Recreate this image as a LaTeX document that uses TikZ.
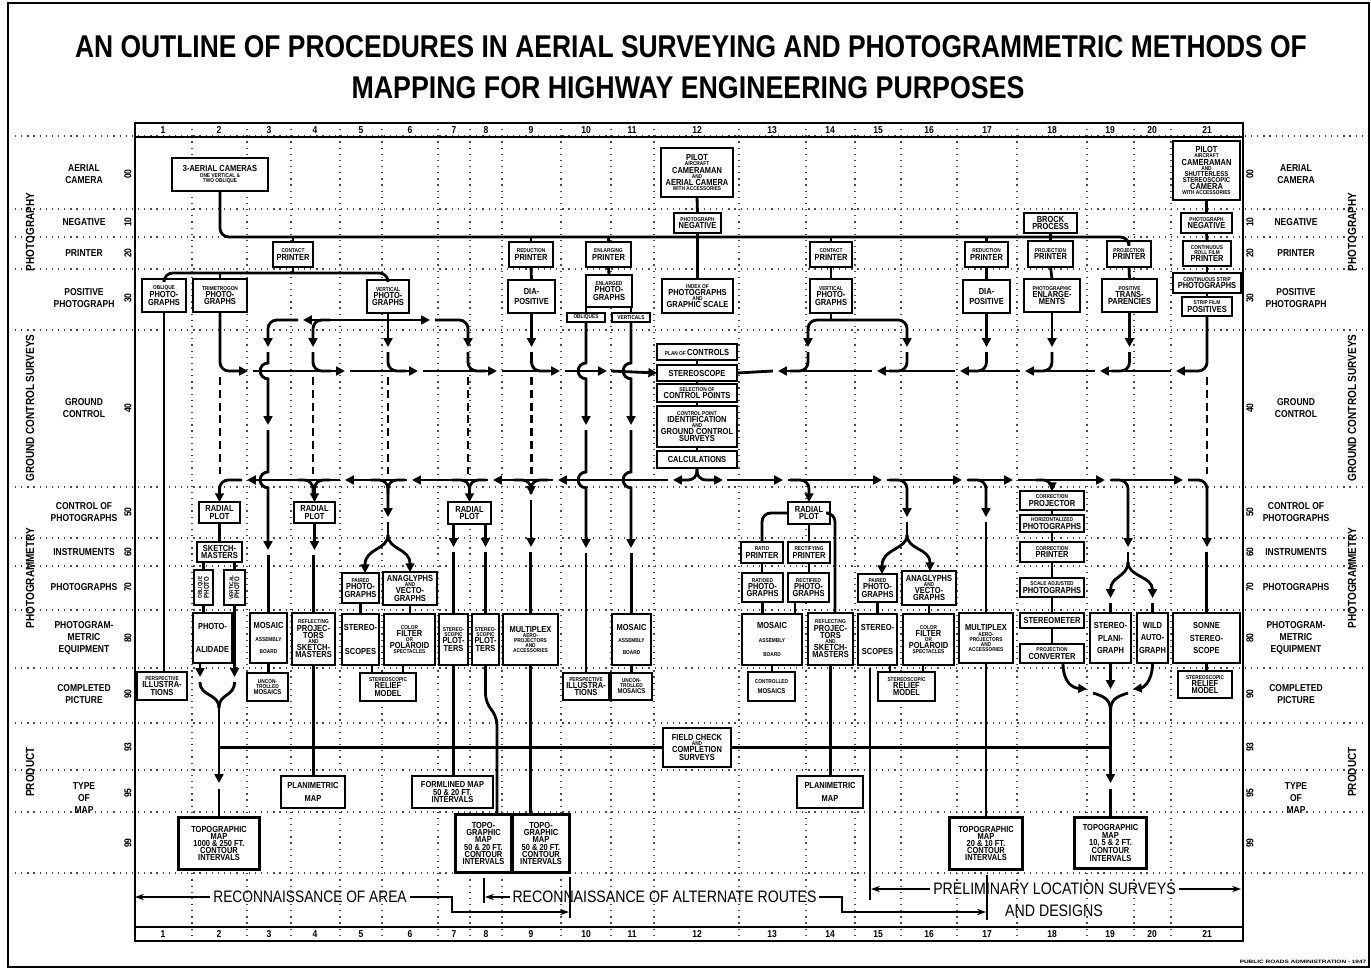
\documentclass[tikz,border=0pt]{standalone}
\usepackage{fontspec}
\usepackage{graphicx}
\setmainfont{Liberation Sans}
\newfontfamily\cond{Liberation Sans}[FakeStretch=0.85]
\usetikzlibrary{arrows.meta}
\newcommand\fL{\cond\bfseries\fontsize{5}{5}\selectfont}
\newcommand\fM{\cond\bfseries\fontsize{4}{4}\selectfont}
\newcommand\fS{\cond\bfseries\fontsize{3.2}{3.2}\selectfont}
\newcommand\fR{\cond\bfseries\fontsize{5.7}{5.7}\selectfont}
\newcommand\fSec{\cond\bfseries\fontsize{6.7}{6.7}\selectfont}
\newcommand\stk[1]{\vbox{\baselineskip=-1000pt\lineskip=0.6pt\lineskiplimit=0pt\halign{\hfil##\hfil\cr#1\crcr}}}
\newcommand\lstk[1]{\vbox{\baselineskip=-1000pt\lineskip=2.8pt\lineskiplimit=0pt\halign{\hfil##\hfil\cr#1\crcr}}}
\newcommand\gp[1]{\noalign{\vskip#1}}
\newcommand\bx[7][]{\node[bxs,minimum width={(#5-#3)*0.5669pt},minimum height={(#6-#4)*0.5669pt},#1] (#2) at ({(#3+#5)/2},{(#4+#6)/2}) {\stk{#7}};}
\begin{document}
\begin{tikzpicture}[x=0.02cm,y=-0.02cm,
  bxs/.style={draw,line width=0.8pt,inner sep=0pt,outer sep=0pt,fill=white},
  mapbox/.style={line width=1.7pt},
  flow/.style={line width=1.6pt,rounded corners=5pt},
  arr/.style={-{Triangle[length=5pt,width=5pt]}},
  arrb/.style={{Triangle[length=5pt,width=5pt]}-{Triangle[length=5pt,width=5pt]}},
  sarr/.style={-{Stealth[length=5pt,width=3.5pt]}},
  dsh/.style={line width=1.6pt,dash pattern=on 4.5pt off 2.8pt},
  gridl/.style={line width=0.7pt,dash pattern=on 0.7pt off 2.8pt,black!70},
  thinl/.style={line width=0.8pt}]
\useasboundingbox (0,0) rectangle (1371,970);
% grid
\foreach \yy in {136,209,237,269,330,487,538,566,610,668,723,770,812,873} \draw[gridl] (15,\yy) -- (1365,\yy);
\foreach \xx in {192,247,291,340,382,438,470,502,561,611,654,739,806,855,901,957,1017,1087,1134,1171} \draw[gridl] (\xx,123) -- (\xx,941);
% frames
\draw[line width=1.2pt] (8,3) rectangle (1369,967);
\draw[line width=1.1pt] (135,123) rectangle (1243,941);
\draw[line width=1.1pt] (135,137) -- (1243,137) (135,927) -- (1243,927);
\foreach \nn/\xx in {1/163,2/219,3/269,4/315,5/361,6/410,7/454,8/486,9/531,10/586,11/632,12/697,13/772,14/830,15/878,16/929,17/987,18/1052,19/1110,20/1152,21/1207}{
  \node[font=\fR,inner sep=0pt] (ht\nn) at (\xx,130) {\nn};
  \node[font=\fR,inner sep=0pt] (hb\nn) at (\xx,934) {\nn};}
% title
\node (T1) at (691,47) {\resizebox{701pt}{12.5pt}{\cond\bfseries AN OUTLINE OF PROCEDURES IN AERIAL SURVEYING AND PHOTOGRAMMETRIC METHODS OF}};
\node (T2) at (688,88) {\resizebox{383pt}{12.5pt}{\cond\bfseries MAPPING FOR HIGHWAY ENGINEERING PURPOSES}};
\node (FT) at (1303,962) {\resizebox{72pt}{1.9pt}{\cond\bfseries PUBLIC ROADS ADMINISTRATION - 1947}};
% side labels
\foreach \sx in {30,1352}{
  \node[rotate=90,inner sep=0pt] (sa\sx) at (\sx,232) {\fSec PHOTOGRAPHY};
  \node[rotate=90,inner sep=0pt] (sb\sx) at (\sx,408) {\fSec GROUND CONTROL SURVEYS};
  \node[rotate=90,inner sep=0pt] (sc\sx) at (\sx,578) {\fSec PHOTOGRAMMETRY};
  \node[rotate=90,inner sep=0pt] (sd\sx) at (\sx,772) {\fSec PRODUCT};}
\foreach \lx in {84,1296}{
  \node[inner sep=0pt] (la\lx) at (\lx,174) {\lstk{\fR AERIAL\cr\fR CAMERA}};
  \node[inner sep=0pt] (lb\lx) at (\lx,222) {\fR NEGATIVE};
  \node[inner sep=0pt] (lc\lx) at (\lx,253) {\fR PRINTER};
  \node[inner sep=0pt] (ld\lx) at (\lx,298) {\lstk{\fR POSITIVE\cr\fR PHOTOGRAPH}};
  \node[inner sep=0pt] (le\lx) at (\lx,408) {\lstk{\fR GROUND\cr\fR CONTROL}};
  \node[inner sep=0pt] (lf\lx) at (\lx,512) {\lstk{\fR CONTROL OF\cr\fR PHOTOGRAPHS}};
  \node[inner sep=0pt] (lg\lx) at (\lx,552) {\fR INSTRUMENTS};
  \node[inner sep=0pt] (lh\lx) at (\lx,587) {\fR PHOTOGRAPHS};
  \node[inner sep=0pt] (li\lx) at (\lx,638) {\lstk{\fR PHOTOGRAM-\cr\fR METRIC\cr\fR EQUIPMENT}};
  \node[inner sep=0pt] (lj\lx) at (\lx,694) {\lstk{\fR COMPLETED\cr\fR PICTURE}};
  \node[inner sep=0pt] (lk\lx) at (\lx,798) {\lstk{\fR TYPE\cr\fR OF\cr\fR MAP}};}
\foreach \cc/\yy in {00/174,10/222,20/253,30/298,40/408,50/512,60/552,70/587,80/638,90/694,93/747,95/793,99/843}{
  \node[rotate=90,font=\fR,inner sep=0pt] (cl\cc) at (128,\yy) {\cc};
  \node[rotate=90,font=\fR,inner sep=0pt] (cr\cc) at (1250,\yy) {\cc};}
% ===== boxes: photography
\bx{CAM3}{172}{158}{268}{191}{\fL 3-AERIAL CAMERAS\cr\fS ONE VERTICAL \&\cr\fS TWO OBLIQUE}
\bx{PIL12}{661}{148}{733}{197}{\fL PILOT\cr\fS AIRCRAFT\cr\fL CAMERAMAN\cr\fS AND\cr\fL AERIAL CAMERA\cr\fS WITH ACCESSORIES}
\bx{PIL21}{1173}{141}{1240}{200}{\fL PILOT\cr\fS AIRCRAFT\cr\fL CAMERAMAN\cr\fS AND\cr\fM SHUTTERLESS\cr\fM STEREOSCOPIC\cr\fL CAMERA\cr\fS WITH ACCESSORIES}
\bx{NEG12}{674}{213}{721}{233}{\fS PHOTOGRAPH\cr\fL NEGATIVE}
\bx{BROCK}{1024}{213}{1077}{233}{\fL BROCK\cr\fL PROCESS}
\bx{NEG21}{1181}{213}{1232}{233}{\fS PHOTOGRAPH\cr\fL NEGATIVE}
\bx{CP1}{273}{242}{313}{267}{\fS CONTACT\cr\fL PRINTER}
\bx{RP9}{509}{242}{553}{267}{\fS REDUCTION\cr\fL PRINTER}
\bx{EP10}{586}{242}{631}{267}{\fS ENLARGING\cr\fL PRINTER}
\bx{CP14}{810}{242}{852}{267}{\fS CONTACT\cr\fL PRINTER}
\bx{RP17}{965}{242}{1008}{267}{\fS REDUCTION\cr\fL PRINTER}
\bx{PP18}{1028}{241}{1073}{267}{\fS PROJECTION\cr\fL PRINTER}
\bx{PP19}{1107}{241}{1151}{267}{\fS PROJECTION\cr\fL PRINTER}
\bx{RF21}{1183}{241}{1231}{266}{\fS CONTINUOUS\cr\fS ROLL FILM\cr\fL PRINTER}
\bx{OB1}{142}{279}{186}{312}{\fS OBLIQUE\cr\fL PHOTO-\cr\fL GRAPHS}
\bx{TRI2}{193}{279}{247}{312}{\fS TRIMETROGON\cr\fL PHOTO-\cr\fL GRAPHS}
\bx{VP6}{367}{280}{409}{313}{\fS VERTICAL\cr\fL PHOTO-\cr\fL GRAPHS}
\bx{DIA9}{508}{280}{555}{313}{\fL DIA-\cr\gp{2pt}\fL POSITIVE}
\bx{ENL10}{586}{275}{632}{307}{\fS ENLARGED\cr\fL PHOTO-\cr\fL GRAPHS}
\bx{OBQ10}{567}{313}{605}{322}{\fS OBLIQUES}
\bx{VERT11}{612}{313}{650}{322}{\fS VERTICALS}
\bx{IDX12}{662}{279}{733}{313}{\fS INDEX OF\cr\fL PHOTOGRAPHS\cr\fS AND\cr\fL GRAPHIC SCALE}
\bx{VP14}{810}{279}{852}{313}{\fS VERTICAL\cr\fL PHOTO-\cr\fL GRAPHS}
\bx{DIA17}{963}{280}{1010}{313}{\fL DIA-\cr\gp{2pt}\fL POSITIVE}
\bx{PE18}{1024}{279}{1080}{312}{\fS PHOTOGRAPHIC\cr\fL ENLARGE-\cr\fL MENTS}
\bx{PT19}{1102}{279}{1157}{312}{\fS POSITIVE\cr\fL TRANS-\cr\fL PARENCIES}
\bx{CS21}{1173}{273}{1241}{293}{\fS CONTINUOUS STRIP\cr\fL PHOTOGRAPHS}
\bx{SF21}{1182}{297}{1232}{316}{\fS STRIP FILM\cr\fL POSITIVES}
% ===== ground control stack
\bx{PLAN}{657}{344}{737}{360}{\fS PLAN OF \fL CONTROLS}
\bx{STEREO}{657}{365}{737}{381}{\fL STEREOSCOPE}
\bx{SEL}{657}{384}{737}{402}{\fS SELECTION OF\cr\fL CONTROL POINTS}
\bx{CPI}{657}{406}{737}{447}{\fS CONTROL POINT\cr\fL IDENTIFICATION\cr\fS AND\cr\fL GROUND CONTROL\cr\fL SURVEYS}
\bx{CALC}{657}{451}{737}{468}{\fL CALCULATIONS}
% ===== photogrammetry left
\bx{RP2}{199}{502}{240}{523}{\fL RADIAL\cr\fL PLOT}
\bx{SK2}{197}{542}{242}{562}{\fL SKETCH-\cr\fL MASTERS}
\node[bxs,minimum width={19*0.5669pt},minimum height={35*0.5669pt}] (OP2) at (203.5,587.5) {\rotatebox{90}{\stk{\fS OBLIQUE\cr\fM PHOTO}}};
\node[bxs,minimum width={21*0.5669pt},minimum height={35*0.5669pt}] (VP2) at (234.5,587.5) {\rotatebox{90}{\stk{\fS VERTICAL\cr\fM PHOTO}}};
\bx{PA2}{193}{613}{232}{663}{\fL PHOTO-\cr\gp{9pt}\fL ALIDADE}
\bx{PI1}{137}{672}{187}{700}{\fS PERSPECTIVE\cr\fL ILLUSTRA-\cr\fL TIONS}
\bx{MOS3}{250}{613}{287}{663}{\fL MOSAIC\cr\gp{4pt}\fS ASSEMBLY\cr\gp{4pt}\fS BOARD}
\bx{UM3}{247}{673}{288}{701}{\fS UNCON-\cr\fS TROLLED\cr\fM MOSAICS}
\bx{RP4}{294}{502}{335}{523}{\fL RADIAL\cr\fL PLOT}
\bx{RPT4}{292}{613}{335}{665}{\fS REFLECTING\cr\fL PROJEC-\cr\fL TORS\cr\fS AND\cr\fL SKETCH-\cr\fL MASTERS}
\bx{PPH5}{342}{573}{379}{603}{\fS PAIRED\cr\fL PHOTO-\cr\fL GRAPHS}
\bx{ANA6}{383}{572}{437}{605}{\fL ANAGLYPHS\cr\fS AND\cr\fL VECTO-\cr\fL GRAPHS}
\bx{ST5}{342}{614}{379}{665}{\fL STEREO-\cr\gp{9pt}\fL SCOPES}
\bx{CF6}{384}{614}{435}{665}{\fS COLOR\cr\fL FILTER\cr\fS OR\cr\fL POLAROID\cr\fS SPECTACLES}
\bx{SRM5}{360}{673}{416}{701}{\fS STEREOSCOPIC\cr\fL RELIEF\cr\fL MODEL}
\bx{RP7}{448}{502}{491}{524}{\fL RADIAL\cr\fL PLOT}
\bx{SP7}{439}{614}{468}{665}{\fS STEREO-\cr\fS SCOPIC\cr\fL PLOT-\cr\fL TERS}
\bx{SP8}{472}{614}{499}{665}{\fS STEREO-\cr\fS SCOPIC\cr\fL PLOT-\cr\fL TERS}
\bx{MP9}{503}{614}{558}{665}{\fL MULTIPLEX\cr\fS AERO-\cr\fS PROJECTORS\cr\fS AND\cr\fS ACCESSORIES}
\bx{PI10}{563}{673}{609}{700}{\fS PERSPECTIVE\cr\fL ILLUSTRA-\cr\fL TIONS}
\bx{MOS11}{612}{614}{651}{665}{\fL MOSAIC\cr\gp{4pt}\fS ASSEMBLY\cr\gp{4pt}\fS BOARD}
\bx{UM11}{611}{673}{652}{700}{\fS UNCON-\cr\fS TROLLED\cr\fM MOSAICS}
\bx{FC}{663}{728}{731}{767}{\fL FIELD CHECK\cr\fS AND\cr\fL COMPLETION\cr\fL SURVEYS}
\bx{PM4}{281}{776}{345}{808}{\fL PLANIMETRIC\cr\gp{3pt}\fL MAP}
\bx{FM7}{412}{776}{493}{808}{\fL FORMLINED MAP\cr\fL 50 \& 20 FT.\cr\fL INTERVALS}
\bx[mapbox]{TM2}{178}{817}{260}{870}{\fL TOPOGRAPHIC\cr\fL MAP\cr\fL 1000 \& 250 FT.\cr\fL CONTOUR\cr\fL INTERVALS}
\bx[mapbox]{TM8}{455}{814}{512}{873}{\fL TOPO-\cr\fL GRAPHIC\cr\fL MAP\cr\fL 50 \& 20 FT.\cr\fL CONTOUR\cr\fL INTERVALS}
\bx[mapbox]{TM9}{512}{814}{570}{873}{\fL TOPO-\cr\fL GRAPHIC\cr\fL MAP\cr\fL 50 \& 20 FT.\cr\fL CONTOUR\cr\fL INTERVALS}
% ===== photogrammetry right
\bx{RP14}{788}{502}{830}{524}{\fL RADIAL\cr\fL PLOT}
\bx{RATIO13}{741}{542}{783}{563}{\fS RATIO\cr\fL PRINTER}
\bx{RECT14}{788}{542}{830}{563}{\fS RECTIFYING\cr\fL PRINTER}
\bx{RATD13}{742}{573}{783}{602}{\fS RATIOED\cr\fL PHOTO-\cr\fL GRAPHS}
\bx{RECTD14}{788}{573}{829}{602}{\fS RECTIFIED\cr\fL PHOTO-\cr\fL GRAPHS}
\bx{MOS13}{742}{614}{802}{665}{\fL MOSAIC\cr\gp{5pt}\fS ASSEMBLY\cr\gp{5pt}\fS BOARD}
\bx{RPT14}{808}{613}{853}{665}{\fS REFLECTING\cr\fL PROJEC-\cr\fL TORS\cr\fS AND\cr\fL SKETCH-\cr\fL MASTERS}
\bx{CM13}{748}{672}{795}{701}{\fS CONTROLLED\cr\gp{2pt}\fM MOSAICS}
\bx{PPH15}{858}{574}{897}{602}{\fS PAIRED\cr\fL PHOTO-\cr\fL GRAPHS}
\bx{ANA16}{902}{571}{956}{605}{\fL ANAGLYPHS\cr\fS AND\cr\fL VECTO-\cr\fL GRAPHS}
\bx{ST15}{858}{614}{897}{665}{\fL STEREO-\cr\gp{9pt}\fL SCOPES}
\bx{CF16}{903}{614}{954}{665}{\fS COLOR\cr\fL FILTER\cr\fS OR\cr\fL POLAROID\cr\fS SPECTACLES}
\bx{SRM15}{878}{672}{935}{701}{\fS STEREOSCOPIC\cr\fL RELIEF\cr\fL MODEL}
\bx{MP17}{959}{613}{1013}{663}{\fL MULTIPLEX\cr\fS AERO-\cr\fS PROJECTORS\cr\fS AND\cr\fS ACCESSORIES}
\bx{CPJ18}{1020}{491}{1084}{510}{\fS CORRECTION\cr\fL PROJECTOR}
\bx{HP18}{1020}{515}{1084}{532}{\fS HORIZONTALIZED\cr\fL PHOTOGRAPHS}
\bx{CPR18}{1020}{542}{1084}{562}{\fS CORRECTION\cr\fL PRINTER}
\bx{SAP18}{1020}{578}{1084}{597}{\fS SCALE ADJUSTED\cr\fL PHOTOGRAPHS}
\bx{SM18}{1020}{613}{1084}{628}{\fL STEREOMETER}
\bx{PC18}{1020}{644}{1084}{663}{\fS PROJECTION\cr\fL CONVERTER}
\bx{SPG19}{1090}{613}{1131}{663}{\fL STEREO-\cr\gp{3pt}\fL PLANI-\cr\gp{3pt}\fL GRAPH}
\bx{WA20}{1137}{613}{1168}{663}{\fL WILD\cr\gp{3pt}\fL AUTO-\cr\gp{3pt}\fL GRAPH}
\bx{SS21}{1173}{613}{1240}{663}{\fL SONNE\cr\gp{3pt}\fL STEREO-\cr\gp{3pt}\fL SCOPE}
\bx{SRM21}{1178}{671}{1232}{698}{\fS STEREOSCOPIC\cr\fL RELIEF\cr\fL MODEL}
\bx{PM14}{797}{776}{863}{808}{\fL PLANIMETRIC\cr\gp{3pt}\fL MAP}
\bx[mapbox]{TM17}{949}{817}{1023}{870}{\fL TOPOGRAPHIC\cr\fL MAP\cr\fL 20 \& 10 FT.\cr\fL CONTOUR\cr\fL INTERVALS}
\bx[mapbox]{TM19}{1074}{817}{1147}{869}{\fL TOPOGRAPHIC\cr\fL MAP\cr\fL 10, 5 \& 2 FT.\cr\fL CONTOUR\cr\fL INTERVALS}
% ===== connectors: photography
\draw[flow] (CAM3.south) |- (PP19.north |- 0,237) -- (PP19.north);
\foreach \b in {CP1,RP9,EP10,CP14,RP17} \draw[flow] (\b.north |- 0,237) -- (\b.north);
\draw[flow] (PIL12.south) -- (NEG12.north);
\draw[flow] (NEG12.south) -- (IDX12.north);
\draw[flow] (BROCK.south) -- (PP18.north);
\draw[flow] (PIL21.south) -- (NEG21.north);
\draw[flow] (NEG21.south) -- (RF21.north);
\draw[flow] (RF21.south) -- (CS21.north);
\draw[flow] (CS21.south) -- (SF21.north);
\draw[flow] (CP1.south) -- (CP1.south |- 0,273);
\draw[flow] (OB1.north) |- (VP6.north |- 0,273) -- (VP6.north);
\draw[flow] (TRI2.north |- 0,273) -- (TRI2.north);
\draw[flow] (RP9.south) -- (DIA9.north);
\draw[flow] (EP10.south) -- (ENL10.north);
\draw[flow] (OBQ10.north |- ENL10.south) -- (OBQ10.north);
\draw[flow] (VERT11.north |- ENL10.south) -- (VERT11.north);
\draw[flow] (CP14.south) -- (VP14.north);
\draw[flow] (RP17.south) -- (DIA17.north);
\draw[flow] (PP18.south) -- (PE18.north);
\draw[flow] (PP19.south) -- (PT19.north);
% ground control stack
\draw[flow] (PLAN.south) -- (STEREO.north);
\draw[flow] (STEREO.south) -- (SEL.north);
\draw[flow] (SEL.south) -- (CPI.north);
\draw[flow] (CPI.south) -- (CALC.north);
% upper line, left part (flow to the right)
\draw[flow,arr] (TRI2.south) |- (248,371);
\draw[flow,arr] (253,371) -- (345,371);
\draw[flow,arr] (350,371) -- (418,371);
\draw[flow,arr] (423,371) -- (497,371);
\draw[flow,arr] (502,371) -- (560,371);
\draw[flow,arr] (565,371) -- (607,371);
\draw[flow,arr] (611,371) -- (STEREO.west);
% top-left loop
\draw[flow,arr] (VP6.south) -- (VP6.south |- 0,347);
\draw[flow,arr] (388,320) -- (303,320);
\draw[flow,arr] (388,320) -- (430,320);
\draw[flow,arr] (298,320) -| (268,347);
\draw[flow,arr] (435,320) -| (468,347);
\draw[flow,arr] (330,320) -| (313,347);
\draw[flow,arr] (DIA9.south) -- (DIA9.south |- 0,347);
\foreach \xx in {313,388,468,531.5} \draw[flow] (\xx,352) |- (\xx+18,371);
\foreach \xx in {220,313,388,468,531.5} \draw[dsh] (\xx,377) -- (\xx,474);
% hopping verticals
\draw[flow,sharp corners,arr] (268,352) -- (268,363) arc(90:270:4.5pt) -- (268,425);
\draw[flow,sharp corners,arr] (268,430) -- (268,472) arc(90:270:4.5pt) -- (268,550);
\draw[flow] (MOS3.north |- 0,555) -- (MOS3.north);
\draw[flow,sharp corners,arr] (OBQ10.south) -- (586,363) arc(90:270:4.5pt) -- (586,425);
\draw[flow,sharp corners,arr] (586,430) -- (586,472) arc(90:270:4.5pt) -- (586,548);
\draw[flow] (PI10.north |- 0,553) -- (PI10.north);
\draw[flow,sharp corners,arr] (VERT11.south) -- (631,363) arc(90:270:4.5pt) -- (631,425);
\draw[flow,sharp corners,arr] (631,430) -- (631,472) arc(90:270:4.5pt) -- (631,548);
\draw[flow] (MOS11.north |- 0,553) -- (MOS11.north);
\draw[flow] (OB1.south) -- (OB1.south |- PI1.north);
% upper line, right part (flow to the left)
\draw[flow,arr] (SF21.south) |- (1176,371);
\draw[flow,arr] (1171,371) -- (1100,371);
\draw[flow,arr] (1095,371) -- (1025,371);
\draw[flow,arr] (1020,371) -- (960,371);
\draw[flow,arr] (955,371) -- (877,371);
\draw[flow,arr] (872,371) -- (778,371);
\draw[flow] (773,371) -- (STEREO.east);
\draw[flow,arr] (PT19.south) -- (PT19.south |- 0,347);
\draw[flow,arr] (PE18.south) -- (PE18.south |- 0,347);
\draw[flow,arr] (DIA17.south) -- (DIA17.south |- 0,347);
\draw[flow] (VP14.south) -- (VP14.south |- 0,320);
\draw[flow,arrb] (808,347) |- (907,320) -- (907,347);
\foreach \xx in {1129.5,1052,986.5,907,808} \draw[flow] (\xx,352) |- (\xx-18,371);
\draw[dsh] (1207,377) -- (1207,474);
% lower line
\draw[flow,arr] (CALC.south) |- (673,480);
\draw[flow,arr] (CALC.south) |- (723,480);
\draw[flow,arr] (668,480) -- (558,480);
\draw[flow,arr] (553,480) -- (493,480);
\draw[flow,arr] (488,480) -- (412,480);
\draw[flow,arr] (407,480) -- (345,480);
\draw[flow,arr] (340,480) -- (247,480);
\draw[flow,arr] (242,480) -| (RP2.north);
\draw[flow,arr] (330,480) -| (RP4.north);
\draw[flow] (298,480) -| (313,494);
\draw[flow,arr] (405,480) -| (388,517);
\draw[flow] (371,480) -| (388,494);
\draw[flow,arr] (486,480) -| (RP7.north);
\draw[flow] (452,480) -| (469.5,494);
\draw[flow,arr] (548,480) -| (531,495);
\draw[flow] (514,480) -| (531,494);
\draw[flow,arr] (531,500) -- (531,547);
\draw[flow] (MP9.north |- 0,552) -- (MP9.north);
\draw[flow] (388,522) -- (388,535);
\draw[flow,arr] (388,535) .. controls (388,550) and (365,548) .. (365,0 |- PPH5.north);
\draw[flow,arr] (388,535) .. controls (388,550) and (410,548) .. (410,0 |- ANA6.north);
\draw[flow,arr] (727,480) -- (783,480);
\draw[flow,arr] (788,480) -- (882,480);
\draw[flow,arr] (790,480) -| (RP14.north);
\draw[flow,arr] (887,480) -- (962,480);
\draw[flow,arr] (889,480) -| (907,517);
\draw[flow,arr] (967,480) -- (1013,480);
\draw[flow,arr] (968,480) -| (986,517);
\draw[flow] (MP17.north |- 0,522) -- (MP17.north);
\draw[flow,arr] (1018,480) -- (1105,480);
\draw[flow,arr] (1036,480) -| (CPJ18.north);
\draw[flow,arr] (1110,480) -- (1183,480);
\draw[flow,arr] (1111,480) -| (1128,547);
\draw[flow,arr] (1188,480) -| (1207,547);
\draw[flow] (SS21.north |- 0,552) -- (SS21.north);
\draw[flow] (907,522) -- (907,535);
\draw[flow,arr] (907,535) .. controls (907,550) and (882,548) .. (882,0 |- PPH15.north);
\draw[flow,arr] (907,535) .. controls (907,550) and (930,548) .. (930,0 |- ANA16.north);
\draw[flow] (1128,552) -- (1128,562);
\draw[flow,arr] (1128,562) .. controls (1128,577) and (1110.5,576) .. (1110.5,598);
\draw[flow,arr] (1128,562) .. controls (1128,577) and (1152.5,576) .. (1152.5,598);
\draw[flow] (SPG19.north |- 0,603) -- (SPG19.north);
\draw[flow] (WA20.north |- 0,603) -- (WA20.north);
% photogrammetry left links
\draw[flow] (RP2.south) -- (SK2.north);
\draw[flow] (OP2.north |- SK2.south) -- (OP2.north);
\draw[flow] (VP2.north |- SK2.south) -- (VP2.north);
\draw[flow] (OP2.south) -- (OP2.south |- PA2.north);
\draw[flow,arr] (200,0 |- PA2.south) -- (200,677);
\draw[flow,arr] (VP2.south) -- (VP2.south |- 0,677);
\draw[flow] (200,682) .. controls (200,697) and (219,693) .. (219,708);
\draw[flow] (234.5,682) .. controls (234.5,697) and (219,693) .. (219,708);
\draw[flow,arr] (219,708) -- (219,783);
\draw[flow] (TM2.north |- 0,789) -- (TM2.north);
\draw[flow] (MOS3.south) -- (MOS3.south |- UM3.north);
\draw[flow,arr] (RP4.south) -- (RP4.south |- 0,550);
\draw[flow] (RPT4.north |- 0,555) -- (RPT4.north);
\draw[flow] (RPT4.south) -- (RPT4.south |- PM4.north);
\draw[flow] (PPH5.south) -- (PPH5.south |- ST5.north);
\draw[flow] (ANA6.south) -- (ANA6.south |- CF6.north);
\draw[flow] (372,0 |- ST5.south) -- (372,0 |- SRM5.north);
\draw[flow] (403,0 |- CF6.south) -- (403,0 |- SRM5.north);
\draw[flow,arr] (SP7.north |- RP7.south) -- (SP7.north |- 0,547);
\draw[flow,arr] (SP8.north |- RP7.south) -- (SP8.north |- 0,547);
\draw[flow] (SP7.north |- 0,552) -- (SP7.north);
\draw[flow] (SP8.north |- 0,552) -- (SP8.north);
\draw[flow] (SP7.south) -- (SP7.south |- FM7.north);
\draw[flow] (SP8.south) -- (485.5,703) -- (497,716) -- (497,0 |- TM8.north);
\draw[flow] (MP9.south) -- (MP9.south |- TM9.north);
\draw[flow] (MOS11.south) -- (MOS11.south |- UM11.north);
\draw[flow] (TM2.north |- FC.west) -- (FC.west);
\draw[flow] (FC.east) -- (TM19.north |- FC.east);
% photogrammetry right links
\draw[flow] (RP14.west) -| (RATIO13.north);
\draw[flow] (RP14.south) -- (RP14.south |- RECT14.north);
\draw[flow] (RP14.east) -| (835,0 |- RPT14.north);
\draw[flow] (RATIO13.south) -- (RATIO13.south |- RATD13.north);
\draw[flow] (RECT14.south) -- (RECT14.south |- RECTD14.north);
\draw[flow] (RATD13.south) -- (RATD13.south |- MOS13.north);
\draw[flow] (795,0 |- RECTD14.south) -- (795,0 |- MOS13.north);
\draw[flow] (MOS13.south) -- (MOS13.south |- CM13.north);
\draw[flow] (RPT14.south) -- (RPT14.south |- PM14.north);
\draw[flow] (PPH15.south) -- (PPH15.south |- ST15.north);
\draw[flow] (ANA16.south) -- (ANA16.south |- CF16.north);
\draw[flow] (890,0 |- ST15.south) -- (890,0 |- SRM15.north);
\draw[flow] (923,0 |- CF16.south) -- (923,0 |- SRM15.north);
\draw[flow] (MP17.south) -- (MP17.south |- TM17.north);
\draw[flow] (CPJ18.south) -- (HP18.north);
\draw[flow] (HP18.south) -- (CPR18.north);
\draw[flow] (CPR18.south) -- (SAP18.north);
\draw[flow] (SAP18.south) -- (SM18.north);
\draw[flow] (SM18.south) -- (PC18.north);
\draw[flow,arr] (1063,0 |- PC18.south) .. controls (1063,683) and (1073,688) .. (1087,689);
\draw[flow,arr] (WA20.south) .. controls (1152.5,683) and (1142,688) .. (1133,689);
\draw[flow,arr] (SPG19.south) -- (SPG19.south |- 0,689);
\draw[flow] (1093,693) .. controls (1106,697) and (1110.5,700) .. (1110.5,712);
\draw[flow] (1128,693) .. controls (1115,697) and (1110.5,700) .. (1110.5,712);
\draw[flow,arr] (1110.5,712) -- (1110.5,783);
\draw[flow] (TM19.north |- 0,789) -- (TM19.north);
\draw[flow] (SS21.south) -- (SS21.south |- SRM21.north);
% bottom annotations
\node[inner sep=1.5pt] (RA) at (310,897) {\resizebox{110pt}{6.6pt}{\cond RECONNAISSANCE OF AREA}};
\node[inner sep=1.5pt] (RAR) at (664.5,897) {\resizebox{173pt}{6.6pt}{\cond RECONNAISSANCE OF ALTERNATE ROUTES}};
\node[inner sep=1.5pt] (PLS) at (1054.5,889) {\resizebox{138pt}{6.6pt}{\cond PRELIMINARY LOCATION SURVEYS}};
\node[inner sep=1.5pt] (AD) at (1054,911) {\resizebox{55.6pt}{6.6pt}{\cond AND DESIGNS}};
\coordinate (fl) at (135,897);
\coordinate (fr) at (1241,889);
\draw[thinl,sarr] (RA.west) -- (fl);
\draw[thinl,sarr] (RA.east) -- (452,897) -- (452,912) -- (569,912);
\draw[thinl] (570,877) -- (570,918);
\draw[thinl,sarr] (RAR.west) -- (485,897);
\draw[thinl] (484,878) -- (484,903);
\draw[thinl,sarr] (RAR.east) -- (842,897) -- (842,912) -- (986,912);
\draw[thinl] (987,875) -- (987,920);
\draw[thinl] (870,668) -- (870,900);
\draw[thinl,sarr] (PLS.west) -- (871,889);
\draw[thinl,sarr] (PLS.east) -- (fr);
\end{tikzpicture}
\end{document}
